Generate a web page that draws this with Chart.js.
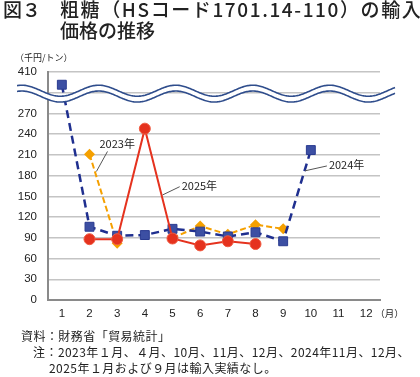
<!DOCTYPE html>
<html>
<head>
<meta charset="utf-8">
<script src="https://cdn.jsdelivr.net/npm/chart.js@4"></script>
<style>
body { margin: 0; background: #fff; }
#wrap { position: relative; width: 420px; height: 377px; overflow: hidden; font-family: "Noto Sans CJK JP", sans-serif; color: #222; }
#chart { position: absolute; left: 0; top: 0; }
.t { position: absolute; white-space: nowrap; }
.note { font-size: 12px; letter-spacing: 0.45px; }
</style>
</head>
<body>
<div id="wrap">
  <canvas id="chart" width="420" height="377"></canvas>
  <div class="t" style="left:3px;top:-2px;font-size:19px;line-height:21px;font-weight:500">図３</div>
  <div class="t" style="left:60px;top:-2px;font-size:19px;line-height:21px;font-weight:500"><span style="letter-spacing:1.6px">粗糖（HSコード1701.14-110）の輸入</span><br>価格の推移</div>
  <div class="t" style="left:15px;top:51px;font-size:9px">（千円/トン）</div>
  <div class="t note" style="left:21px;top:327px">資料：財務省「貿易統計」</div>
  <div class="t note" style="left:33px;top:343px">注：2023年１月、４月、10月、11月、12月、2024年11月、12月、</div>
  <div class="t note" style="left:49px;top:359px">2025年１月および９月は輸入実績なし。</div>
</div>
<script>
// months on the x axis
const months = ['1', '2', '3', '4', '5', '6', '7', '8', '9', '10', '11', '12'];

// import price, thousand yen per ton (null = no imports)
const y2025 = [null, 88, 88, 248, 89, 79, 85, 81, null, null, null, null];
const y2024 = [367, 106, 93, 94, 103, 99, 92, 98, 85, 217, null, null];
const y2023 = [null, 211, 82, null, 90, 107, 95, 109, 103, null, null, null];

// y ticks; everything between 270 and 410 is squeezed behind the wave
const breakLow = 270;
const breakHigh = 410;
const topTick = 330;

// axis is broken: above 270 values are compressed so 410 sits at the top tick
function brk(v) {
  if (v === null) return null;
  if (v <= breakLow) return v;
  return breakLow + (v - breakLow) * (topTick - breakLow) / (breakHigh - breakLow);
}

// label text + where the leader line touches the series (month index, value)
const notes = [
  { text: '2023年', from: [1.65, 215], to: [1.25, 186], dx: -8, dy: -8 },
  { text: '2025年', from: [4.26, 164], to: [3.64, 152], dx: 2, dy: -1 },
  { text: '2024年', from: [9.58, 194], to: [8.79, 187], dx: 2, dy: -1 }
];

const wavePlugin = {
  id: 'wave',
  afterDatasetsDraw(chart) {
    const ctx = chart.ctx;
    const area = chart.chartArea;
    const yMid = chart.scales.y.getPixelForValue(300);
    const xs = area.left - 31, xe = area.right + 15;
    const period = 77, amp = 5.5, phase = area.left - 7;
    const f = (x, off) => yMid + off + amp * Math.sin(2 * Math.PI * (x - phase) / period);

    ctx.save();
    ctx.beginPath();
    for (let x = xs; x <= xe; x++) ctx.lineTo(x, f(x, -2));
    for (let x = xe; x >= xs; x--) ctx.lineTo(x, f(x, 3.8));
    ctx.closePath();
    ctx.fillStyle = '#fff';
    ctx.fill();

    ctx.strokeStyle = '#2f4d8c';
    ctx.lineWidth = 1.6;
    [-2, 3.8].forEach(off => {
      ctx.beginPath();
      for (let x = xs; x <= xe; x++) ctx.lineTo(x, f(x, off));
      ctx.stroke();
    });

    // leader labels
    const sx = chart.scales.x, sy = chart.scales.y;
    ctx.font = '11px "Noto Sans CJK JP"';
    ctx.fillStyle = '#222';
    ctx.textBaseline = 'middle';
    ctx.textAlign = 'left';
    notes.forEach(n => {
      const x1 = sx.getPixelForValue(n.from[0]), y1 = sy.getPixelForValue(n.from[1]);
      const x2 = sx.getPixelForValue(n.to[0]), y2 = sy.getPixelForValue(n.to[1]);
      ctx.strokeStyle = '#555';
      ctx.lineWidth = 1;
      ctx.beginPath();
      ctx.moveTo(x1, y1);
      ctx.lineTo(x2, y2);
      ctx.stroke();
      ctx.fillText(n.text, x1 + n.dx, y1 + n.dy);
    });

    // month unit after the last tick
    ctx.font = '9.5px "Noto Sans CJK JP"';
    ctx.fillText('（月）', sx.getPixelForValue(11) + 9, area.bottom + 13);
    ctx.restore();
  }
};

new Chart(document.getElementById('chart'), {
  type: 'line',
  data: {
    labels: months,
    datasets: [
      {
        label: '2025年',
        data: y2025.map(brk),
        borderColor: '#e5321e',
        backgroundColor: '#e5321e',
        borderWidth: 2,
        pointStyle: 'circle',
        pointRadius: 5.5,
        pointBorderColor: '#f05a40',
        pointBorderWidth: 1,
        spanGaps: false
      },
      {
        label: '2024年',
        data: y2024.map(brk),
        borderColor: '#1f2f8f',
        backgroundColor: '#3c4fa3',
        borderWidth: 2.5,
        borderDash: [8, 5],
        pointStyle: 'rect',
        pointRadius: 6.3,
        pointBorderColor: '#2a3b90',
        pointBorderWidth: 1,
        spanGaps: false
      },
      {
        label: '2023年',
        data: y2023.map(brk),
        borderColor: '#f5a000',
        backgroundColor: '#f5a000',
        borderWidth: 2,
        borderDash: [6, 3],
        pointStyle: 'rectRot',
        pointRadius: 5.5,
        pointBorderWidth: 0,
        spanGaps: false
      }
    ]
  },
  options: {
    responsive: false,
    animation: false,
    layout: { padding: { left: 0, right: 40, top: 72, bottom: 55 } },
    plugins: { legend: { display: false }, tooltip: { enabled: false } },
    scales: {
      x: {
        offset: true,
        grid: { display: false, drawTicks: false },
        border: { color: '#8a8a8a', width: 2 },
        ticks: { color: '#222', padding: 7, font: { family: 'Liberation Sans', size: 11.5 } },
        afterFit(scale) { scale.height = 22; }
      },
      y: {
        min: 0,
        max: topTick,
        grid: { color: '#c4c4c4', lineWidth: 1.5, drawTicks: false },
        border: { color: '#8a8a8a', width: 2 },
        ticks: {
          stepSize: 30,
          color: '#222',
          padding: 11,
          font: { family: 'Liberation Sans', size: 11.5 },
          callback: v => (v === topTick ? String(breakHigh) : v === 300 ? '' : v)
        },
        afterFit(scale) { scale.width = 48; }
      }
    }
  },
  plugins: [wavePlugin]
});
</script>
</body>
</html>
